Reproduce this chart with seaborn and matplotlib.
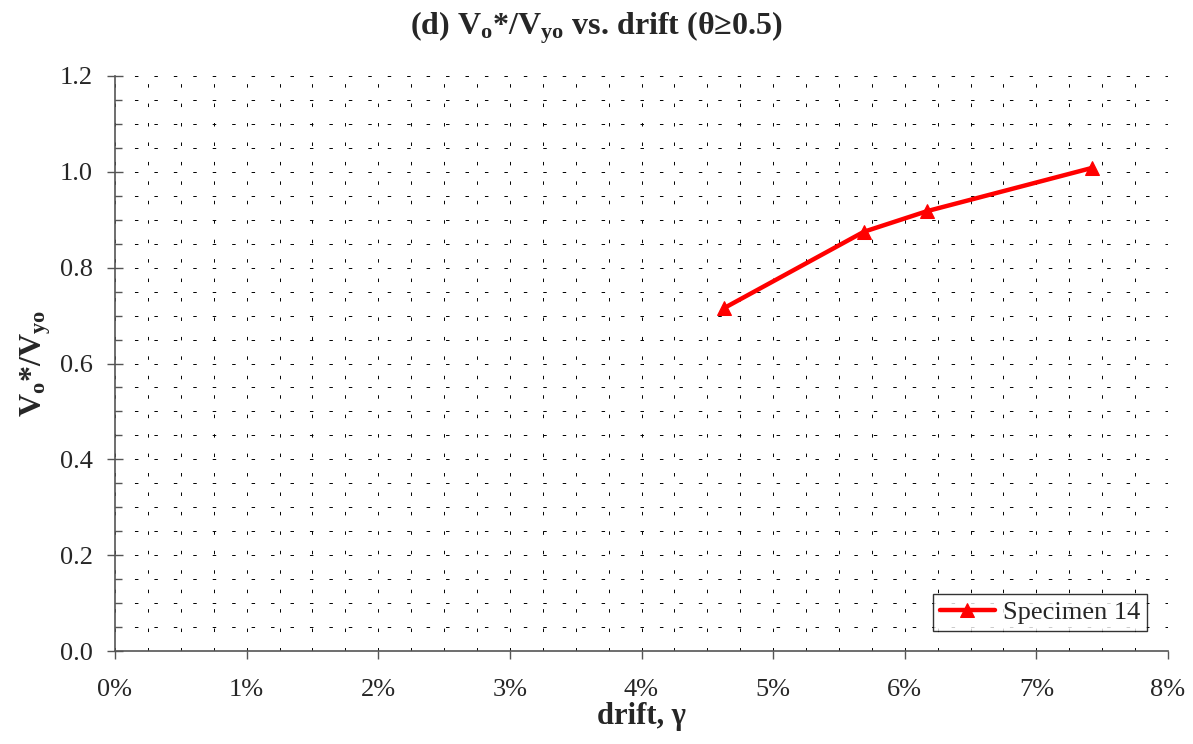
import matplotlib
matplotlib.use("Agg")
import matplotlib.pyplot as plt
import seaborn as sns
import pandas as pd
import numpy as np
from matplotlib.ticker import MultipleLocator, FuncFormatter

# Data
drift = [0.0463, 0.0569, 0.0617, 0.0742]
ratio = [0.716, 0.875, 0.918, 1.008]
series_name = "Specimen 14"
x_ticks = [0.00, 0.01, 0.02, 0.03, 0.04, 0.05, 0.06, 0.07, 0.08]
y_ticks = [0.0, 0.2, 0.4, 0.6, 0.8, 1.0, 1.2]

df = pd.DataFrame({"drift": drift, "ratio": ratio, "series": series_name})

sns.set_style("white")
plt.rcParams["font.family"] = ["Liberation Serif", "DejaVu Serif"]
plt.rcParams["mathtext.fontset"] = "custom"
plt.rcParams["mathtext.rm"] = "Liberation Serif"
plt.rcParams["mathtext.it"] = "Liberation Serif:italic"
plt.rcParams["mathtext.bf"] = "Liberation Serif:bold"
plt.rcParams["lines.scale_dashes"] = False

fig = plt.figure(figsize=(11.93, 7.44), dpi=100)
ax = fig.add_axes([115/1193, 1 - 651/744, (1168 - 115)/1193, (651 - 76)/744])

# grid (dashed, every 0.25% in x and 0.05 in y)
ax.set_xlim(0, 0.08)
ax.set_ylim(0, 1.2)
ax.xaxis.set_major_locator(MultipleLocator(0.01))
ax.xaxis.set_minor_locator(MultipleLocator(0.0025))
ax.yaxis.set_major_locator(MultipleLocator(0.2))
ax.yaxis.set_minor_locator(MultipleLocator(0.05))
ax.grid(which="both", axis="both", color="black", linewidth=0.7,
        linestyle=(0, (2.5, 11.5)))
ax.set_axisbelow(True)

sns.lineplot(data=df, x="drift", y="ratio", hue="series", palette=["#ff0000"],
             marker="^", markersize=10, markeredgecolor="#ff0000",
             linewidth=3.2, ax=ax, legend=True)

ax.set_xticks(x_ticks)
ax.set_yticks(y_ticks)
ax.xaxis.set_major_formatter(FuncFormatter(lambda v, p: f"{v*100:.0f}%"))
ax.yaxis.set_major_formatter(FuncFormatter(lambda v, p: f"{v:.1f}"))
ax.tick_params(axis="x", which="major", direction="out", length=6, width=1,
               color="#555555", labelsize=19, pad=14, bottom=True)
ax.tick_params(axis="x", which="minor", length=0)
ax.tick_params(axis="y", which="major", direction="inout", length=12, width=1,
               color="#555555", labelsize=19, pad=10, left=True)
ax.tick_params(axis="y", which="minor", direction="in", length=5, width=1,
               color="#555555", left=True)

for s in ["top", "right"]:
    ax.spines[s].set_visible(False)
for s in ["left", "bottom"]:
    ax.spines[s].set_color("#555555")
    ax.spines[s].set_linewidth(1.2)

ax.set_xlabel("drift, γ", fontsize=22, fontweight="bold", labelpad=1)
ax.set_ylabel(r"$\mathbf{V_{o}}$*/$\mathbf{V_{yo}}$", fontsize=23,
              fontweight="bold", labelpad=5)
fig.text(0.5, 1 - 28/744,
         r"(d) $\mathbf{V_{o}}$*/$\mathbf{V_{yo}}$ vs. drift (θ≥0.5)",
         fontsize=23, fontweight="bold", ha="center", va="center")

leg = ax.legend(loc="lower right", bbox_to_anchor=(0.98, 0.035), fontsize=19,
                frameon=True, fancybox=False, edgecolor="black",
                handlelength=2.1, borderpad=0.25, handletextpad=0.3,
                borderaxespad=0)
leg.get_frame().set_linewidth(1.0)

fig.savefig("out.png", dpi=100)
